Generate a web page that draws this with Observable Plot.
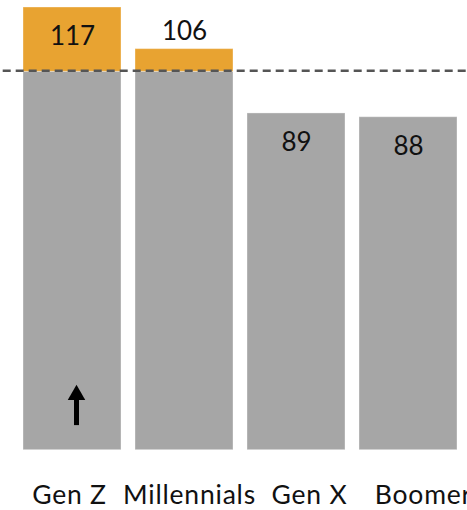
<!DOCTYPE html>
<html>
<head>
<meta charset="utf-8">
<script src="https://cdn.jsdelivr.net/npm/d3@7"></script>
<script src="https://cdn.jsdelivr.net/npm/@observablehq/plot@0.6"></script>
<style>
  html, body { margin: 0; padding: 0; background: #fff; overflow: hidden; }
  #chart { position: relative; width: 467px; height: 510px; overflow: hidden; }
  #chart svg { position: absolute; left: 0; }
  #chart svg.labels text { letter-spacing: 0.8px; }
</style>
</head>
<body>
<div id="chart"></div>
<script>
const categories = ["Gen Z", "Millennials", "Gen X", "Boomers"];
const values = [117, 106, 89, 88];
const baseline = 100;
const arrowCategory = ["Gen Z"];
const arrowFrom = [6.5];
const arrowTo = [14.6];

const rows = categories.map((cat, i) => ({cat, value: values[i]}));
const arrows = arrowCategory.map((cat, i) => ({cat, from: arrowFrom[i], to: arrowTo[i]}));

const FONT = "Lato, 'Open Sans', sans-serif";
const GRAY = "#a6a6a6";
const ORANGE = "#e8a331";

const main = Plot.plot({
  width: 467,
  height: 510,
  marginTop: 7,
  marginBottom: 60.3,
  marginLeft: 17.7,
  marginRight: 4.1,
  style: {fontFamily: FONT, background: "transparent"},
  x: {domain: categories, paddingInner: 0.125, paddingOuter: 0.05, axis: null},
  y: {domain: [0, 117], axis: null},
  marks: [
    Plot.barY(rows, {x: "cat", y1: 0, y2: d => Math.min(d.value, baseline), fill: GRAY, stroke: "#fff", strokeOpacity: 0.35, strokeWidth: 1}),
    Plot.barY(rows.filter(d => d.value > baseline), {x: "cat", y1: baseline, y2: "value", fill: ORANGE, stroke: "#fff", strokeOpacity: 0.35, strokeWidth: 1}),
    Plot.ruleY([baseline], {stroke: "#555", strokeWidth: 2.5, strokeDasharray: "8,5", insetLeft: -15, insetRight: -5, dy: -1}),
    Plot.text(rows.filter(d => !(d.value > baseline && d.value - baseline < 10)), {x: "cat", y: "value", text: d => String(d.value), dy: 29, lineAnchor: "middle", fontSize: 26, fill: "#111"}),
    Plot.text(rows.filter(d => d.value > baseline && d.value - baseline < 10), {x: "cat", y: "value", text: d => String(d.value), dy: -17.5, lineAnchor: "middle", fontSize: 26, fill: "#111"}),
    Plot.ruleX(arrows, {x: "cat", y1: "from", y2: "to", stroke: "#000", strokeWidth: 5, dx: 4}),
    Plot.dot(arrows, {x: "cat", y: "to", symbol: "triangle", r: 6.5, fill: "#000", dx: 4})
  ]
});
main.style.top = "0px";

const labels = Plot.plot({
  width: 467,
  height: 60,
  marginTop: 0,
  marginBottom: 0,
  marginLeft: 69,
  marginRight: 38,
  className: "labels",
  style: {fontFamily: FONT, background: "transparent", overflow: "hidden"},
  x: {type: "point", domain: categories, padding: 0, axis: null},
  marks: [
    Plot.text(categories, {x: d => d, frameAnchor: "top", lineAnchor: "middle", dy: 45, fontSize: 26.5, fill: "#111"})
  ]
});
labels.classList.add("labels");
labels.style.top = "450px";

const chart = document.getElementById("chart");
chart.appendChild(main);
chart.appendChild(labels);
</script>
</body>
</html>
